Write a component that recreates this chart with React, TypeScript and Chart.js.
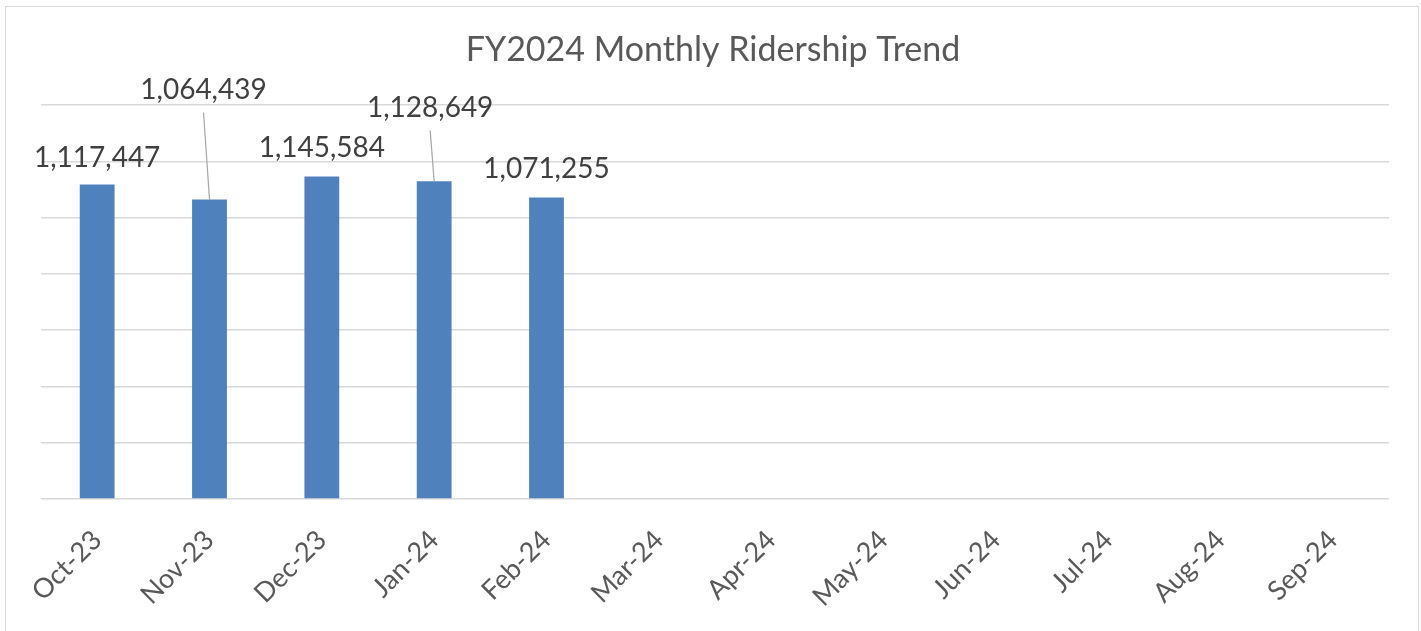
import React, { useEffect, useRef } from "react";
import { Chart, registerables } from "chart.js";

Chart.register(...registerables);

const title = "FY2024 Monthly Ridership Trend";
const months = ["Oct-23", "Nov-23", "Dec-23", "Jan-24", "Feb-24", "Mar-24", "Apr-24", "May-24", "Jun-24", "Jul-24", "Aug-24", "Sep-24"];
const ridership: (number | null)[] = [1117447, 1064439, 1145584, 1128649, 1071255, null, null, null, null, null, null, null];
const yMax = 1400000;
const yStep = 200000;

// label placement relative to bar top (dx, dy of label centre)
const labelShift: [number, number][] = [[0, -27], [-6, -109], [0, -29], [-4, -73], [0, -29]];

const FONT = "Lato, 'Open Sans', sans-serif";

const decorPlugin = {
  id: "decor",
  beforeDraw(chart: any) {
    const ctx = chart.ctx;
    ctx.save();
    ctx.fillStyle = "#ffffff";
    ctx.fillRect(0, 0, chart.width, chart.height);
    ctx.strokeStyle = "#d9d9d9";
    ctx.lineWidth = 1;
    ctx.strokeRect(5.5, 6.5, chart.width - 8, chart.height + 10);
    ctx.fillStyle = "#595959";
    ctx.font = `34px ${FONT}`;
    ctx.textAlign = "center";
    ctx.textBaseline = "middle";
    ctx.fillText(title, 713, 50);
    ctx.restore();
  },
  afterDatasetsDraw(chart: any) {
    const ctx = chart.ctx;
    const meta = chart.getDatasetMeta(0);
    ctx.save();
    ctx.font = `28px ${FONT}`;
    ctx.textAlign = "center";
    ctx.textBaseline = "middle";
    meta.data.forEach((bar: any, i: number) => {
      const v = ridership[i];
      if (v == null) return;
      const [dx, dy] = labelShift[i] || [0, -28];
      const lx = bar.x + dx;
      const ly = bar.y + dy;
      if (dy < -45) {
        ctx.strokeStyle = "#a6a6a6";
        ctx.lineWidth = 1.2;
        ctx.beginPath();
        ctx.moveTo(lx, ly + 22);
        ctx.lineTo(bar.x, bar.y);
        ctx.stroke();
      }
      ctx.fillStyle = "#404040";
      ctx.fillText(v.toLocaleString("en-US"), lx, ly);
    });
    ctx.restore();
  },
};

export default function App() {
  const ref = useRef<HTMLCanvasElement>(null);
  useEffect(() => {
    document.body.style.margin = "0";
    const chart = new Chart(ref.current!, {
      type: "bar",
      data: {
        labels: months,
        datasets: [
          {
            data: ridership,
            backgroundColor: "#4f81bd",
            barPercentage: 0.31,
            categoryPercentage: 1,
          },
        ],
      },
      options: {
        animation: false,
        responsive: false,
        layout: { padding: { left: 41, right: 32, top: 105, bottom: 0 } },
        plugins: { legend: { display: false }, title: { display: false }, tooltip: { enabled: false } },
        scales: {
          x: {
            grid: { display: false, drawTicks: false },
            border: { display: false },
            ticks: {
              color: "#595959",
              font: { family: FONT, size: 27 },
              minRotation: 45,
              maxRotation: 45,
              padding: 25,
              autoSkip: false,
            },
            afterFit(scale: any) {
              scale.height = 132;
            },
          },
          y: {
            min: 0,
            max: yMax,
            ticks: { display: false, stepSize: yStep },
            grid: { color: "#d9d9d9", lineWidth: 1.5, drawTicks: false },
            border: { display: false },
            afterFit(scale: any) {
              scale.width = 0;
            },
          },
        },
      },
      plugins: [decorPlugin],
    });
    return () => chart.destroy();
  }, []);
  return (
    <div style={{ width: 1421, height: 631 }}>
      <canvas ref={ref} width={1421} height={631} />
    </div>
  );
}
